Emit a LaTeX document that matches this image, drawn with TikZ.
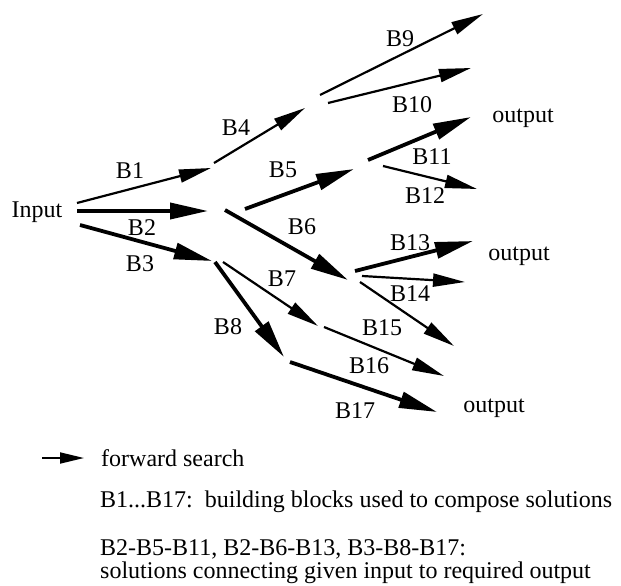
\documentclass[tikz,border=0pt]{standalone}
\usepackage{fontspec}
\setmainfont{Liberation Serif}
\usetikzlibrary{arrows.meta}

\begin{document}
\begin{tikzpicture}[
    x=1pt, y=-1pt,
    font=\fontsize{24}{27}\selectfont,
    >={Triangle[length=32pt,width=13pt]}
]

\tikzstyle{blk}=[->, line width=2.2pt]
\tikzstyle{key}=[->, line width=3.8pt, >={Triangle[length=38pt,width=16pt]}]
\tikzstyle{lbl}=[inner sep=1pt]

\useasboundingbox (0,0) rectangle (621,586);

% arrow ends
\coordinate (b1s) at (77,203);   \coordinate (b1e) at (211,168);
\coordinate (b2s) at (77,211);   \coordinate (b2e) at (208,211);
\coordinate (b3s) at (80,225);   \coordinate (b3e) at (212,261);
\coordinate (b4s) at (214,163);  \coordinate (b4e) at (305,108);
\coordinate (b5s) at (245,209);  \coordinate (b5e) at (354,169);
\coordinate (b6s) at (225,210);  \coordinate (b6e) at (348,280);
\coordinate (b7s) at (223,262);  \coordinate (b7e) at (318,326);
\coordinate (b8s) at (215,262);  \coordinate (b8e) at (284,357);
\coordinate (b9s) at (320,95);   \coordinate (b9e) at (483,14);
\coordinate (b10s) at (328,103); \coordinate (b10e) at (471,68);
\coordinate (b11s) at (368,160); \coordinate (b11e) at (471,117);
\coordinate (b12s) at (383,166); \coordinate (b12e) at (477,189);
\coordinate (b13s) at (355,271); \coordinate (b13e) at (473,241);
\coordinate (b14s) at (362,276); \coordinate (b14e) at (465,282);
\coordinate (b15s) at (360,282); \coordinate (b15e) at (454,346);
\coordinate (b16s) at (324,327); \coordinate (b16e) at (444,376);
\coordinate (b17s) at (290,362); \coordinate (b17e) at (437,412);

\draw[blk] (b1s) -- (b1e);
\draw[key] (b2s) -- (b2e);
\draw[key] (b3s) -- (b3e);
\draw[blk] (b4s) -- (b4e);
\draw[key] (b5s) -- (b5e);
\draw[key] (b6s) -- (b6e);
\draw[blk] (b7s) -- (b7e);
\draw[key] (b8s) -- (b8e);
\draw[blk] (b9s) -- (b9e);
\draw[blk] (b10s) -- (b10e);
\draw[key] (b11s) -- (b11e);
\draw[blk] (b12s) -- (b12e);
\draw[key] (b13s) -- (b13e);
\draw[blk] (b14s) -- (b14e);
\draw[blk] (b15s) -- (b15e);
\draw[blk] (b16s) -- (b16e);
\draw[key] (b17s) -- (b17e);

\node (in) at (37,212) {Input};
\node (out1) at (523,118) {output};
\node (out2) at (519,256) {output};
\node (out3) at (494,408) {output};

\node[lbl] (l1) at (130,171) {B1};
\node[lbl] (l2) at (142,228) {B2};
\node[lbl] (l3) at (140,264) {B3};
\node[lbl] (l4) at (236,128) {B4};
\node[lbl] (l5) at (283,170) {B5};
\node[lbl] (l6) at (302,227) {B6};
\node[lbl] (l7) at (282,279) {B7};
\node[lbl] (l8) at (228,327) {B8};
\node[lbl] (l9) at (400,39) {B9};
\node[lbl] (l10) at (412,105) {B10};
\node[lbl] (l11) at (432,157) {B11};
\node[lbl] (l12) at (425,196) {B12};
\node[lbl] (l13) at (410,243) {B13};
\node[lbl] (l14) at (410,294) {B14};
\node[lbl] (l15) at (382,328) {B15};
\node[lbl] (l16) at (369,366) {B16};
\node[lbl] (l17) at (355,411) {B17};

% legend
\coordinate (ks) at (42,458);
\coordinate (ke) at (84,458);
\draw[->, line width=1.8pt, >={Triangle[length=24pt,width=11pt]}] (ks) -- (ke);
\node[anchor=west, inner sep=0pt] (fwd) at (101,458) {forward search};
\node[anchor=west, inner sep=0pt] (bb) at (100,502) {B1...B17:\ \ building blocks used to compose solutions};
\node[anchor=base west, inner sep=0pt] (sol) at (100,555) {B2-B5-B11, B2-B6-B13, B3-B8-B17:};
\node[anchor=base west, inner sep=0pt] (sol2) at (100,578) {solutions connecting given input to required output};

\end{tikzpicture}
\end{document}
